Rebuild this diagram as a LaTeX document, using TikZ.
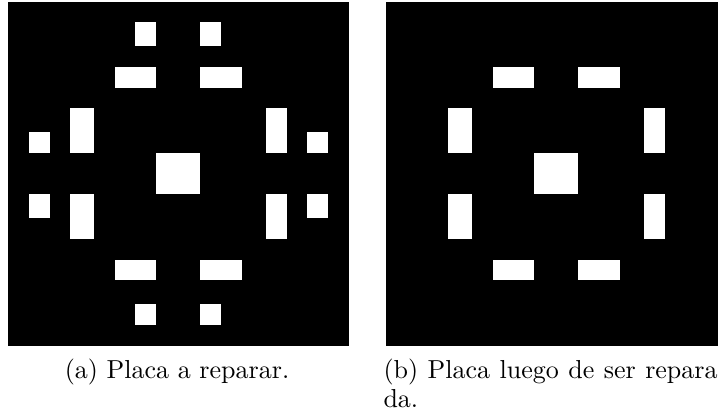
\documentclass[tikz,border=0pt]{standalone}
\begin{document}
% one unit = one pixel of a 718 x 418 frame, y pointing down
\begin{tikzpicture}[x=0.3846pt,y=-0.3846pt,
  plate/.style={fill=black},
  hole/.style={fill=white},
  caption/.style={inner sep=0pt, font=\normalsize}]
\useasboundingbox (0,0) rectangle (718,418);
\clip (0,0) rectangle (718,418);

% ---------- (a) plate with defects ----------
\fill[plate] (8,2) rectangle (349,346);
% top pads
\fill[hole] (135.3,22.3) rectangle (156.3,46.3);
\fill[hole] (200.3,22.3) rectangle (221.3,46.3);
\fill[hole] (114.7,67) rectangle (156.3,88);
\fill[hole] (200.3,67) rectangle (242.3,88);
% side pads
\fill[hole] (70.3,108.3) rectangle (94,153.3);
\fill[hole] (265.7,108.3) rectangle (286.7,153.3);
\fill[hole] (70.3,194.3) rectangle (94,239.3);
\fill[hole] (265.7,194.3) rectangle (286.7,239.3);
\fill[hole] (28.7,132.3) rectangle (49.7,153.3);
\fill[hole] (307.3,132.3) rectangle (328.3,153.3);
\fill[hole] (28.7,194.3) rectangle (49.7,218.3);
\fill[hole] (307.3,194.3) rectangle (328.3,218.3);
% centre pad
\fill[hole] (156.3,153.3) rectangle (200.3,194.3);
% bottom pads
\fill[hole] (114.7,259.7) rectangle (156.3,280.3);
\fill[hole] (200.3,259.7) rectangle (242.3,280.3);
\fill[hole] (135.3,304.3) rectangle (156.3,325.3);
\fill[hole] (200.3,304.3) rectangle (221.3,325.3);

% ---------- (b) repaired plate ----------
\begin{scope}[xshift=378*0.3846pt]
\fill[plate] (8,2) rectangle (349,346);
\fill[hole] (114.7,67) rectangle (156.3,88);
\fill[hole] (200.3,67) rectangle (242.3,88);
\fill[hole] (70.3,108.3) rectangle (94,153.3);
\fill[hole] (265.7,108.3) rectangle (286.7,153.3);
\fill[hole] (70.3,194.3) rectangle (94,239.3);
\fill[hole] (265.7,194.3) rectangle (286.7,239.3);
\fill[hole] (156.3,153.3) rectangle (200.3,194.3);
\fill[hole] (114.7,259.7) rectangle (156.3,280.3);
\fill[hole] (200.3,259.7) rectangle (242.3,280.3);
\end{scope}

% ---------- captions ----------
\node[caption, anchor=base] (capa) at (177,378) {(a) Placa a reparar.};
\node[caption, anchor=base west] (capb) at (383,378)
  {\makebox[128.5pt][s]{(b) Placa luego de ser repara}};
\node[caption, anchor=base west] (capbb) at (383,407) {da.};
\end{tikzpicture}
\end{document}
